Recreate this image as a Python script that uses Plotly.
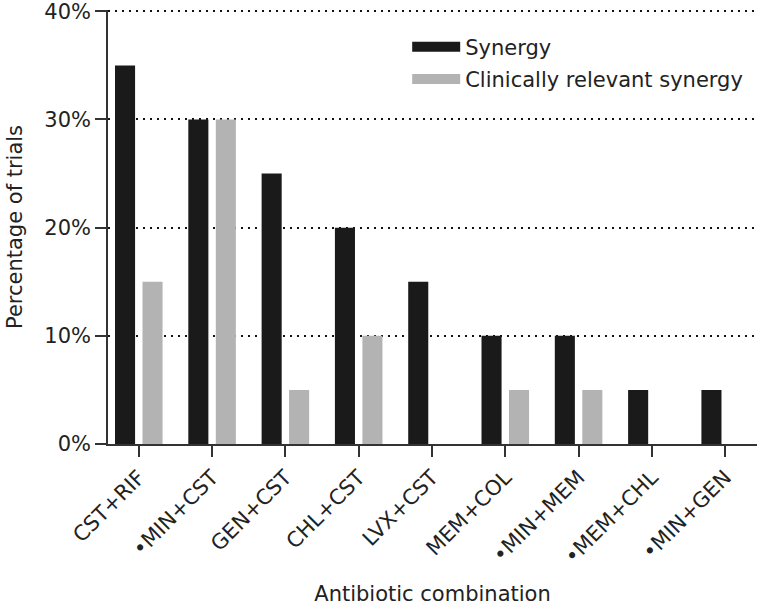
import plotly.graph_objects as go

categories = ["CST+RIF", "•MIN+CST", "GEN+CST", "CHL+CST", "LVX+CST",
              "MEM+COL", "•MIN+MEM", "•MEM+CHL", "•MIN+GEN"]
synergy = [35, 30, 25, 20, 15, 10, 10, 5, 5]
clinical = [15, 30, 5, 10, 0, 5, 5, 0, 0]
series_names = ["Synergy", "Clinically relevant synergy"]
series_colors = ["#1a1a1a", "#b3b3b3"]
y_ticks = [0, 10, 20, 30, 40]
y_tick_labels = ["0%", "10%", "20%", "30%", "40%"]

FONT = "DejaVu Sans"
TXT = "#222222"
FS = 21

fig = go.Figure()
for i, (name, vals, col) in enumerate(zip(series_names, [synergy, clinical], series_colors)):
    fig.add_trace(go.Bar(x=categories, y=vals, name=name, marker_color=col,
                         marker_line_width=0, showlegend=False))
    fig.add_trace(go.Scatter(x=[None], y=[None], mode="lines", name=name,
                             legendgroup="g%d" % i,
                             line=dict(color=col, width=14), showlegend=True))

fig.update_layout(
    width=757, height=606,
    margin=dict(l=108, r=0, t=10, b=162),
    plot_bgcolor="white", paper_bgcolor="white",
    barmode="group", bargap=0.25, bargroupgap=0.27,
    font=dict(family=FONT, size=FS, color=TXT),
    legend=dict(x=0.461, xanchor="left", y=0.962, yanchor="top",
                bgcolor="rgba(0,0,0,0)", font=dict(size=FS, color=TXT),
                itemwidth=48, tracegroupgap=2),
    xaxis=dict(
        title=dict(text="Antibiotic combination", font=dict(size=FS, color=TXT), standoff=30),
        range=[-0.42, 8.434], tickangle=-45, automargin=False,
        showline=True, linecolor="#333", linewidth=1.5,
        ticks="outside", ticklen=11, tickcolor="#333", tickwidth=1.5,
        showgrid=False, tickfont=dict(size=FS, color=TXT),
    ),
    yaxis=dict(
        title=dict(text="Percentage of trials", font=dict(size=FS, color=TXT), standoff=16),
        range=[0, 40.12], tickvals=y_ticks, ticktext=y_tick_labels, automargin=False,
        ticklabeloverflow="allow",
        showline=True, linecolor="#333", linewidth=1.5,
        ticks="outside", ticklen=11, tickcolor="#333", tickwidth=1.5,
        showgrid=True, gridcolor="#111", gridwidth=2, griddash="2px,5px",
        zeroline=False, tickfont=dict(size=FS, color=TXT),
    ),
)

fig.write_html("out.html", config={"displayModeBar": False},
               post_script="document.body.style.margin='0';")
